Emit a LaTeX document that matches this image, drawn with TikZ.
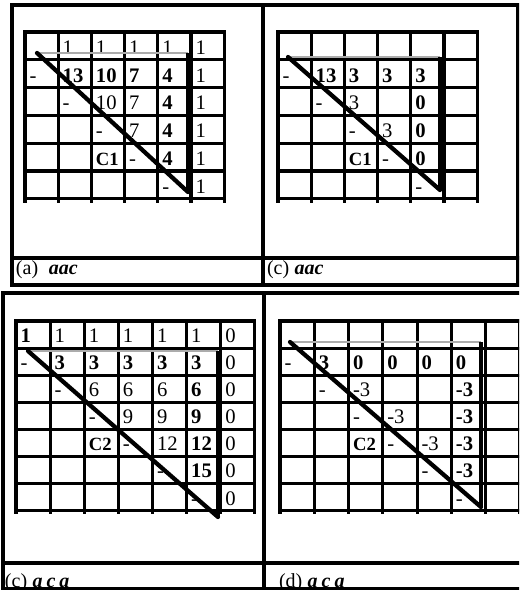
\documentclass[tikz,border=0pt]{standalone}
\usepackage{fontspec}
\setmainfont{Liberation Serif}

\begin{document}
\begin{tikzpicture}[
  x=0.75pt, y=-0.75pt,
  every node/.style={inner sep=0pt, outer sep=0pt},
  frame/.style={line width=2.3pt, line cap=rect},
  gridline/.style={line width=2.3pt, line cap=rect},
  cell/.style={anchor=base west, xshift=3.4pt, yshift=4.1pt, font=\fontsize{15.5}{16}\selectfont},
  bcell/.style={cell, font=\fontsize{15.5}{16}\selectfont\bfseries},
  tag/.style={cell, font=\fontsize{14}{15}\selectfont\bfseries},
  capt/.style={anchor=base west, font=\fontsize{15}{16}\selectfont},
  tedge/.style={draw=gray!65, line width=1.4pt},
  redge/.style={line width=3.2pt},
  diag/.style={line width=3.2pt, line cap=round}
]
  \useasboundingbox (0,0) rectangle (519,590);
  \clip (0,0) rectangle (519,590);

  % Frames
  \draw[frame] (12,5) rectangle (518,285);
  \draw[frame] (263,5) -- (263,285);
  \draw[frame] (12,258) -- (518,258);
  \draw[frame] (525,293) -- (3,293) -- (3,589) -- (525,589);
  \draw[frame] (264,293) -- (264,589);
  \draw[frame] (3,563) -- (525,563);

  % Grid (a)
  \begin{scope}[shift={(25,32)}, x=24.9pt, y=-20.85pt]
    \foreach \i in {0,...,6} \draw[gridline] (\i,0) -- (\i,6.08);
    \foreach \j in {0,...,6} \draw[gridline] (0,\j) -- (6,\j);
    \foreach \c/\r/\t in {1/0/1, 2/0/1, 3/0/1, 4/0/1, 5/0/1,
                          0/1/-, 5/1/1,
                          1/2/-, 2/2/10, 3/2/7, 5/2/1,
                          2/3/-, 3/3/7, 5/3/1,
                          3/4/-, 5/4/1,
                          4/5/-, 5/5/1}
      \node[cell] (a-\c-\r) at (\c,\r+1) {\t};
    \foreach \c/\r/\t in {1/1/13, 2/1/10, 3/1/7, 4/1/4,
                          4/2/4, 4/3/4, 4/4/4}
      \node[bcell] (a-\c-\r) at (\c,\r+1) {\t};
    \node[tag] (a-c1) at (2,5) {C1};
  \end{scope}

  % Grid (c), top
  \begin{scope}[shift={(278,32)}, x=24.9pt, y=-20.85pt]
    \foreach \i in {0,...,6} \draw[gridline] (\i,0) -- (\i,6.08);
    \foreach \j in {0,...,6} \draw[gridline] (0,\j) -- (6,\j);
    \foreach \c/\r/\t in {0/1/-, 1/2/-, 2/2/3, 2/3/-, 3/3/3, 3/4/-, 4/5/-}
      \node[cell] (b-\c-\r) at (\c,\r+1) {\t};
    \foreach \c/\r/\t in {1/1/13, 2/1/3, 3/1/3, 4/1/3,
                          4/2/0, 4/3/0, 4/4/0}
      \node[bcell] (b-\c-\r) at (\c,\r+1) {\t};
    \node[tag] (b-c1) at (2,5) {C1};
  \end{scope}

  % Grid (c), bottom
  \begin{scope}[shift={(16,321)}, x=25.6pt, y=-20.3pt]
    \foreach \i in {0,...,7} \draw[gridline] (\i,0) -- (\i,7.08);
    \foreach \j in {0,...,7} \draw[gridline] (0,\j) -- (7,\j);
    \foreach \c/\r/\t in {1/0/1, 2/0/1, 3/0/1, 4/0/1, 5/0/1, 6/0/0,
                          0/1/-, 6/1/0,
                          1/2/-, 2/2/6, 3/2/6, 4/2/6, 6/2/0,
                          2/3/-, 3/3/9, 4/3/9, 6/3/0,
                          3/4/-, 4/4/12, 6/4/0,
                          4/5/-, 6/5/0,
                          5/6/-, 6/6/0}
      \node[cell] (c-\c-\r) at (\c,\r+1) {\t};
    \foreach \c/\r/\t in {0/0/1, 1/1/3, 2/1/3, 3/1/3, 4/1/3, 5/1/3,
                          5/2/6, 5/3/9, 5/4/12, 5/5/15}
      \node[bcell] (c-\c-\r) at (\c,\r+1) {\t};
    \node[tag] (c-c2) at (2,5) {C2};
  \end{scope}

  % Grid (d)
  \begin{scope}[shift={(280,321)}, x=25.7pt, y=-20.3pt]
    \foreach \i in {0,...,7} \draw[gridline] (\i,0) -- (\i,7.08);
    \foreach \j in {0,...,7} \draw[gridline] (0,\j) -- (7.5,\j);
    \foreach \c/\r/\t in {0/1/-, 1/2/-, 2/2/-3, 2/3/-, 3/3/-3,
                          3/4/-, 4/4/-3, 4/5/-, 5/6/-}
      \node[cell] (d-\c-\r) at (\c,\r+1) {\t};
    \foreach \c/\r/\t in {1/1/3, 2/1/0, 3/1/0, 4/1/0, 5/1/0,
                          5/2/-3, 5/3/-3, 5/4/-3, 5/5/-3}
      \node[bcell] (d-\c-\r) at (\c,\r+1) {\t};
    \node[tag] (d-c2) at (2,5) {C2};
  \end{scope}

  % Triangles
  \coordinate (a-tl) at (37,53);   \coordinate (a-tr) at (188,53);  \coordinate (a-br) at (188,192);
  \coordinate (b-tl) at (288,57);  \coordinate (b-tr) at (440,57);  \coordinate (b-br) at (440,190);
  \coordinate (c-tl) at (28,351);  \coordinate (c-tr) at (218,351); \coordinate (c-br) at (218,517);
  \coordinate (d-tl) at (290,342); \coordinate (d-tr) at (481,342); \coordinate (d-br) at (481,507);
  \foreach \p in {a,b,c,d} {
    \draw[tedge] (\p-tl) -- (\p-tr);
    \draw[redge] (\p-tr) -- (\p-br);
    \draw[diag] (\p-tl) -- (\p-br);
  }

  % Captions
  \node[capt] (cap-a) at (16,274) {(a)\hspace{8pt}\textbf{\textit{aac}}};
  \node[capt] (cap-b) at (267,274) {(c)\hspace{4pt}\textbf{\textit{aac}}};
  \node[capt] (cap-c) at (5,587) {(c)\hspace{4pt}\textbf{\textit{a\hspace{3pt}c\hspace{3pt}a}}};
  \node[capt] (cap-d) at (279,587) {(d)\hspace{4pt}\textbf{\textit{a\hspace{3pt}c\hspace{3pt}a}}};
\end{tikzpicture}
\end{document}
